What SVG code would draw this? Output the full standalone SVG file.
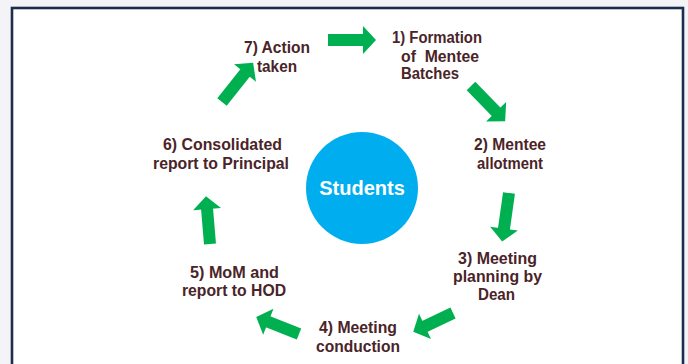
<svg xmlns="http://www.w3.org/2000/svg" width="688" height="364" viewBox="0 0 688 364">
<defs>
<style>
.lbl{font-family:"Liberation Sans",Arial,sans-serif;font-weight:bold;font-size:16px;fill:#4a2428;text-anchor:middle}
.st{text-anchor:start}
.arr{fill:#00b050}
</style>
<polygon id="ar" points="-13,-14 0,0 -13,14"/>
</defs>
<rect x="0" y="0" width="688" height="364" fill="#f3f3f8"/>
<rect x="12" y="8" width="671" height="370" fill="#ffffff" stroke="#1c2d4e" stroke-width="2.6"/>
<g id="center">
<circle cx="362" cy="188" r="56" fill="#00aeef"/>
<text x="362" y="195" style="font-family:'Liberation Sans',Arial,sans-serif;font-weight:bold;font-size:20px;fill:#ffffff;text-anchor:middle">Students</text>
</g>
<g id="n1"><text class="lbl st" x="392" y="43" textLength="90" lengthAdjust="spacingAndGlyphs">1) Formation</text><text class="lbl st" x="401" y="62" textLength="78" lengthAdjust="spacingAndGlyphs" xml:space="preserve">of  Mentee</text><text class="lbl st" x="401" y="79" textLength="58" lengthAdjust="spacingAndGlyphs">Batches</text></g>
<g id="n2"><text class="lbl" x="510" y="150" textLength="72" lengthAdjust="spacingAndGlyphs">2) Mentee</text><text class="lbl" x="510" y="169" textLength="66" lengthAdjust="spacingAndGlyphs">allotment</text></g>
<g id="n3"><text class="lbl" x="497.5" y="264" textLength="79" lengthAdjust="spacingAndGlyphs">3) Meeting</text><text class="lbl" x="497.5" y="282" textLength="89" lengthAdjust="spacingAndGlyphs">planning by</text><text class="lbl" x="496.5" y="300" textLength="37" lengthAdjust="spacingAndGlyphs">Dean</text></g>
<g id="n4"><text class="lbl" x="358" y="333" textLength="78" lengthAdjust="spacingAndGlyphs">4) Meeting</text><text class="lbl" x="358" y="352" textLength="84" lengthAdjust="spacingAndGlyphs">conduction</text></g>
<g id="n5"><text class="lbl" x="234.5" y="278" textLength="89" lengthAdjust="spacingAndGlyphs">5) MoM and</text><text class="lbl" x="234" y="296" textLength="104" lengthAdjust="spacingAndGlyphs">report to HOD</text></g>
<g id="n6"><text class="lbl" x="222.5" y="150" textLength="119" lengthAdjust="spacingAndGlyphs">6) Consolidated</text><text class="lbl" x="221" y="169" textLength="136" lengthAdjust="spacingAndGlyphs">report to Principal</text></g>
<g id="n7"><text class="lbl" x="277" y="53" textLength="66" lengthAdjust="spacingAndGlyphs">7) Action</text><text class="lbl" x="277" y="72" textLength="40" lengthAdjust="spacingAndGlyphs">taken</text></g>
<g id="connectors" class="arr">
<g transform="translate(328,40)"><polygon points="0,-6 37,-6 37,6 0,6"/><use href="#ar" transform="translate(48,0)"/></g>
<g transform="translate(471,86) rotate(45.8)"><polygon points="0,-6 37,-6 37,6 0,6"/><use href="#ar" transform="translate(49,0)"/></g>
<g transform="translate(509,193) rotate(98)"><polygon points="0,-6 37,-6 37,6 0,6"/><use href="#ar" transform="translate(49,0)"/></g>
<g transform="translate(453,313) rotate(154.6)"><polygon points="0,-6 32,-6 32,6 0,6"/><use href="#ar" transform="translate(44,0)"/></g>
<g transform="translate(299,334) rotate(201.6)"><polygon points="0,-6 34,-6 34,6 0,6"/><use href="#ar" transform="translate(46,0)"/></g>
<g transform="translate(210,244) rotate(-94.8)"><polygon points="0,-6 36,-6 36,6 0,6"/><use href="#ar" transform="translate(48,0)"/></g>
<g transform="translate(222,102) rotate(-51.5)"><polygon points="0,-6 38,-6 38,6 0,6"/><use href="#ar" transform="translate(50,0)"/></g>
</g>
</svg>
